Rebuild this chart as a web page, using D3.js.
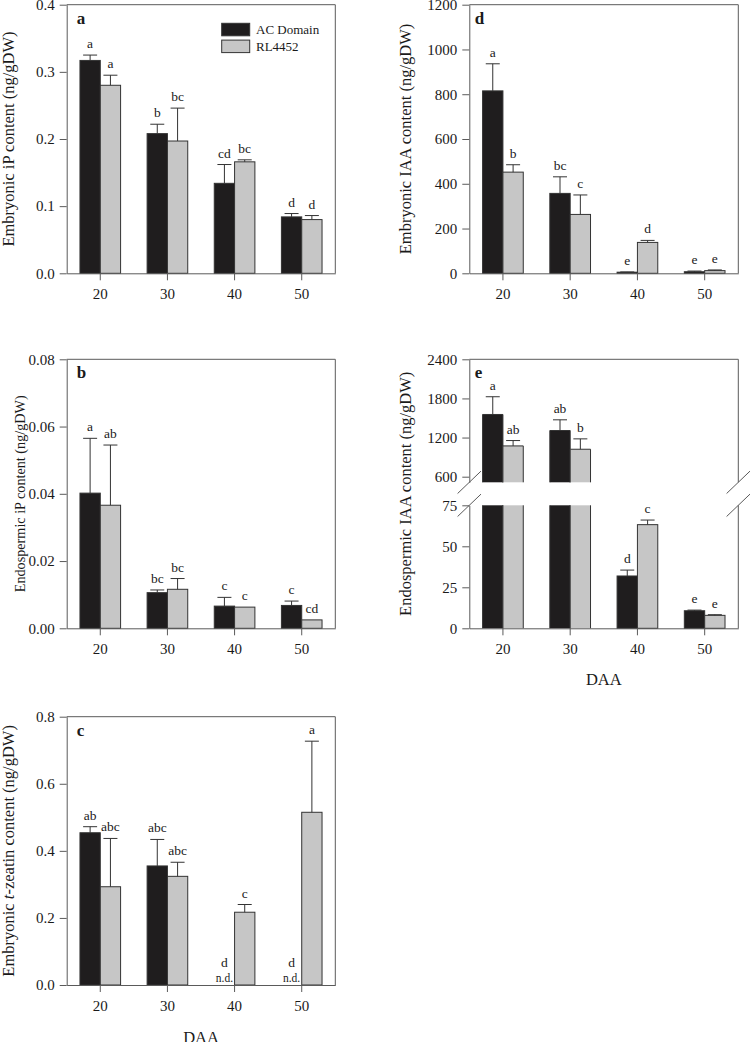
<!DOCTYPE html>
<html><head><meta charset="utf-8">
<script src="https://cdn.jsdelivr.net/npm/d3@7"></script>
<style>
body{margin:0;background:#fff;}
svg{display:block;font-family:"Liberation Serif","Times New Roman",serif;}
</style></head><body>
<svg id="chart" width="750" height="1042"></svg>
<script>
// ---------- data ----------
const days = ["20","30","40","50"];
const seriesNames = ["AC Domain","RL4452"];

// a: Embryonic iP
const aAC = [0.317, 0.208, 0.134, 0.084];
const aACerr = [0.008, 0.014, 0.028, 0.005];
const aRL = [0.280, 0.197, 0.166, 0.080];
const aRLerr = [0.015, 0.049, 0.003, 0.006];
const aACsig = ["a","b","cd","d"];
const aRLsig = ["a","bc","bc","d"];
const aTicks = [0, 0.1, 0.2, 0.3, 0.4];

// b: Endospermic iP
const bAC = [0.0402, 0.0106, 0.0066, 0.0068];
const bACerr = [0.0163, 0.0008, 0.0026, 0.0013];
const bRL = [0.0366, 0.0116, 0.0063, 0.0025];
const bRLerr = [0.0179, 0.0032, 0, 0];
const bACsig = ["a","bc","c","c"];
const bRLsig = ["ab","bc","c","cd"];
const bTicks = [0, 0.02, 0.04, 0.06, 0.08];

// c: Embryonic t-zeatin (null = n.d.)
const cAC = [0.454, 0.355, null, null];
const cACerr = [0.018, 0.079, 0, 0];
const cRL = [0.293, 0.324, 0.217, 0.515];
const cRLerr = [0.144, 0.042, 0.023, 0.212];
const cACsig = ["ab","abc","d","d"];
const cRLsig = ["abc","abc","c","a"];
const cTicks = [0, 0.2, 0.4, 0.6, 0.8];

// d: Embryonic IAA
const dAC = [815, 357, 5, 7];
const dACerr = [121, 74, 1, 3];
const dRL = [452, 263, 138, 12];
const dRLerr = [33, 87, 9, 3];
const dACsig = ["a","bc","e","e"];
const dRLsig = ["b","c","d","e"];
const dTicks = [0, 200, 400, 600, 800, 1000, 1200];

// e: Endospermic IAA (broken axis)
const eAC = [1554, 1308, 31.9, 10.7];
const eACerr = [272, 164, 3.6, 0.4];
const eRL = [1072, 1021, 63.2, 7.9];
const eRLerr = [82, 159, 2.8, 0.4];
const eACsig = ["a","ab","d","e"];
const eRLsig = ["ab","b","c","e"];
const eLowTicks = [0, 25, 50, 75];
const eHighTicks = [600, 1200, 1800, 2400];
const eLowDomain = [0, 75];
const eHighDomain = [514, 2400];

// ---------- style ----------
const C_BLACK = "#1f1d1e", C_GREY = "#c6c6c6", C_EDGE = "#333", C_AXIS = "#5a5a5a", C_TEXT = "#1a1a1a";
const svg = d3.select("#chart");

function panel(p) {
  const g = svg.append("g");
  const x0 = d3.scaleBand().domain(days).range([p.left, p.right]).paddingInner(0.395).paddingOuter(0.1975);
  const x1 = d3.scaleBand().domain(seriesNames).range([0, x0.bandwidth()]);
  const bw = x1.bandwidth();
  const broken = !!p.broken;
  let y, yLow, yHigh;
  if (broken) {
    yLow = d3.scaleLinear().domain(eLowDomain).range([p.bottom, p.lowTop]);
    yHigh = d3.scaleLinear().domain(eHighDomain).range([p.highBottom, p.top]);
    y = v => v <= eLowDomain[1] ? yLow(v) : yHigh(v);
  } else {
    y = d3.scaleLinear().domain([0, p.ticks[p.ticks.length-1]]).range([p.bottom, p.top]);
  }

  const series = [
    {name: seriesNames[0], vals: p.ac, err: p.acErr, sig: p.acSig, fill: C_BLACK},
    {name: seriesNames[1], vals: p.rl, err: p.rlErr, sig: p.rlSig, fill: C_GREY}
  ];

  series.forEach(s => {
    days.forEach((d, i) => {
      const v = s.vals[i];
      const bx = x0(d) + x1(s.name);
      const cx = bx + bw / 2;
      if (v === null) {
        g.append("text").attr("x", cx).attr("y", p.bottom - 18).attr("text-anchor","middle")
          .attr("font-size", 13.5).attr("fill", C_TEXT).text(s.sig[i]);
        g.append("text").attr("x", cx).attr("y", p.bottom - 3).attr("text-anchor","middle")
          .attr("font-size", 11.5).attr("fill", C_TEXT).text("n.d.");
        return;
      }
      if (broken && v > eLowDomain[1]) {
        const yt = yHigh(v), yb = yHigh(eHighDomain[0]);
        g.append("rect").attr("x", bx).attr("y", yt).attr("width", bw).attr("height", yb - yt).attr("fill", s.fill);
        g.append("path").attr("d", `M${bx},${yb}V${yt}H${bx+bw}V${yb}`).attr("fill","none").attr("stroke", C_EDGE);
        const lt = yLow(eLowDomain[1]);
        g.append("rect").attr("x", bx).attr("y", lt).attr("width", bw).attr("height", p.bottom - lt).attr("fill", s.fill);
        g.append("path").attr("d", `M${bx},${lt}V${p.bottom}M${bx+bw},${lt}V${p.bottom}`).attr("fill","none").attr("stroke", C_EDGE);
      } else {
        g.append("rect").attr("x", bx).attr("y", y(v)).attr("width", bw).attr("height", p.bottom - y(v))
          .attr("fill", s.fill).attr("stroke", C_EDGE).attr("stroke-width", 1);
      }
      const e = s.err[i];
      const ye = y(v + e);
      if (e > 0) {
        g.append("line").attr("x1", cx).attr("x2", cx).attr("y1", y(v)).attr("y2", ye).attr("stroke", C_EDGE);
        g.append("line").attr("x1", cx - 7).attr("x2", cx + 7).attr("y1", ye).attr("y2", ye).attr("stroke", C_EDGE);
      }
      g.append("text").attr("x", cx).attr("y", ye - 7).attr("text-anchor","middle")
        .attr("font-size", 13.5).attr("fill", C_TEXT).text(s.sig[i]);
    });
  });

  // axes
  const styleAxis = sel => {
    sel.selectAll("path,line").attr("stroke", C_AXIS);
    sel.selectAll("text").attr("fill", C_TEXT).attr("font-size", 15).attr("font-family", '"Liberation Serif","Times New Roman",serif');
  };
  if (broken) {
    g.append("g").attr("transform", `translate(${p.left},0)`)
      .call(d3.axisLeft(yLow).tickValues(eLowTicks).tickFormat(d3.format("d")).tickSize(7).tickSizeOuter(0).tickPadding(5)).call(styleAxis);
    g.append("g").attr("transform", `translate(${p.left},0)`)
      .call(d3.axisLeft(yHigh).tickValues(eHighTicks).tickFormat(d3.format("d")).tickSize(7).tickSizeOuter(0).tickPadding(5)).call(styleAxis);
    // right border broken
    g.append("path").attr("d", `M${p.right},${p.top}V${p.highBottom}M${p.right},${p.lowTop}V${p.bottom}`)
      .attr("stroke", C_AXIS).attr("fill","none");
    // break marks
    [p.left, p.right].forEach(xx => {
      [p.highBottom, p.lowTop].forEach(yy => {
        g.append("line").attr("x1", xx - 11.7).attr("y1", yy + 11.2).attr("x2", xx + 11.7).attr("y2", yy - 11.2)
          .attr("stroke", C_AXIS);
      });
    });
  } else {
    g.append("g").attr("transform", `translate(${p.left},0)`)
      .call(d3.axisLeft(y).tickValues(p.ticks).tickFormat(d3.format(p.fmt)).tickSize(7).tickSizeOuter(0).tickPadding(5)).call(styleAxis);
    g.append("line").attr("x1", p.right).attr("x2", p.right).attr("y1", p.top).attr("y2", p.bottom).attr("stroke", C_AXIS);
  }
  g.append("line").attr("x1", p.left).attr("x2", p.right).attr("y1", p.top).attr("y2", p.top).attr("stroke", C_AXIS);
  g.append("g").attr("transform", `translate(0,${p.bottom})`)
    .call(d3.axisBottom(x0).tickSize(7).tickSizeOuter(0).tickPadding(8.5)).call(styleAxis);

  // panel letter
  g.append("text").attr("x", p.left + p.letterDx).attr("y", p.top + 19).attr("font-size", 17).attr("font-weight","bold")
    .attr("fill", C_TEXT).text(p.letter);

  // y title
  const t = g.append("text").attr("transform", `translate(${p.titleX},${(p.top + p.bottom) / 2}) rotate(-90)`)
    .attr("text-anchor","middle").attr("font-size", p.titleSize).attr("fill", C_TEXT);
  p.title.forEach(part => {
    const ts = t.append("tspan").text(part.t);
    if (part.i) ts.attr("font-style","italic");
  });

  if (p.xTitle) {
    g.append("text").attr("x", (p.left + p.right) / 2).attr("y", p.xTitleY).attr("text-anchor","middle")
      .attr("font-size", 16.5).attr("fill", C_TEXT).text("DAA");
  }
  return g;
}

const L = {l: 66.7, r: 335.3}, R = {l: 469.3, r: 738.3};

const ga = panel({left: L.l, right: L.r, top: 4.7, bottom: 273.3, ticks: aTicks, fmt: ".1f",
  ac: aAC, acErr: aACerr, rl: aRL, rlErr: aRLerr, acSig: aACsig, rlSig: aRLsig, letter: "a", letterDx: 10,
  titleX: 13.5, titleSize: 16.5, title: [{t: "Embryonic iP content (ng/gDW)"}]});

panel({left: L.l, right: L.r, top: 359.3, bottom: 628.3, ticks: bTicks, fmt: ".2f",
  ac: bAC, acErr: bACerr, rl: bRL, rlErr: bRLerr, acSig: bACsig, rlSig: bRLsig, letter: "b", letterDx: 10,
  titleX: 25, titleSize: 14.2, title: [{t: "Endospermic iP content (ng/gDW)"}]});

panel({left: L.l, right: L.r, top: 716.7, bottom: 985, ticks: cTicks, fmt: ".1f",
  ac: cAC, acErr: cACerr, rl: cRL, rlErr: cRLerr, acSig: cACsig, rlSig: cRLsig, letter: "c", letterDx: 10,
  titleX: 13.5, titleSize: 16.5, title: [{t: "Embryonic "}, {t: "t", i: true}, {t: "-zeatin content (ng/gDW)"}],
  xTitle: true, xTitleY: 1043});

panel({left: R.l, right: R.r, top: 4.7, bottom: 273.3, ticks: dTicks, fmt: "d",
  ac: dAC, acErr: dACerr, rl: dRL, rlErr: dRLerr, acSig: dACsig, rlSig: dRLsig, letter: "d", letterDx: 5.5,
  titleX: 410.7, titleSize: 16.5, title: [{t: "Embryonic IAA content (ng/gDW)"}]});

panel({left: R.l, right: R.r, top: 359.3, bottom: 628.3, broken: true, highBottom: 482.3, lowTop: 505.3,
  ac: eAC, acErr: eACerr, rl: eRL, rlErr: eRLerr, acSig: eACsig, rlSig: eRLsig, letter: "e", letterDx: 5.5,
  titleX: 410.7, titleSize: 16.5, title: [{t: "Endospermic IAA content (ng/gDW)"}],
  xTitle: true, xTitleY: 685});

// legend (panel a)
const leg = ga.append("g");
seriesNames.forEach((n, i) => {
  leg.append("rect").attr("x", 221.7).attr("y", 23.3 + i * 16.8).attr("width", 28).attr("height", 12.5)
    .attr("fill", i === 0 ? C_BLACK : C_GREY).attr("stroke", C_EDGE);
  leg.append("text").attr("x", 256).attr("y", 34 + i * 17).attr("font-size", 13).attr("fill", C_TEXT).text(n);
});
</script>
</body></html>
